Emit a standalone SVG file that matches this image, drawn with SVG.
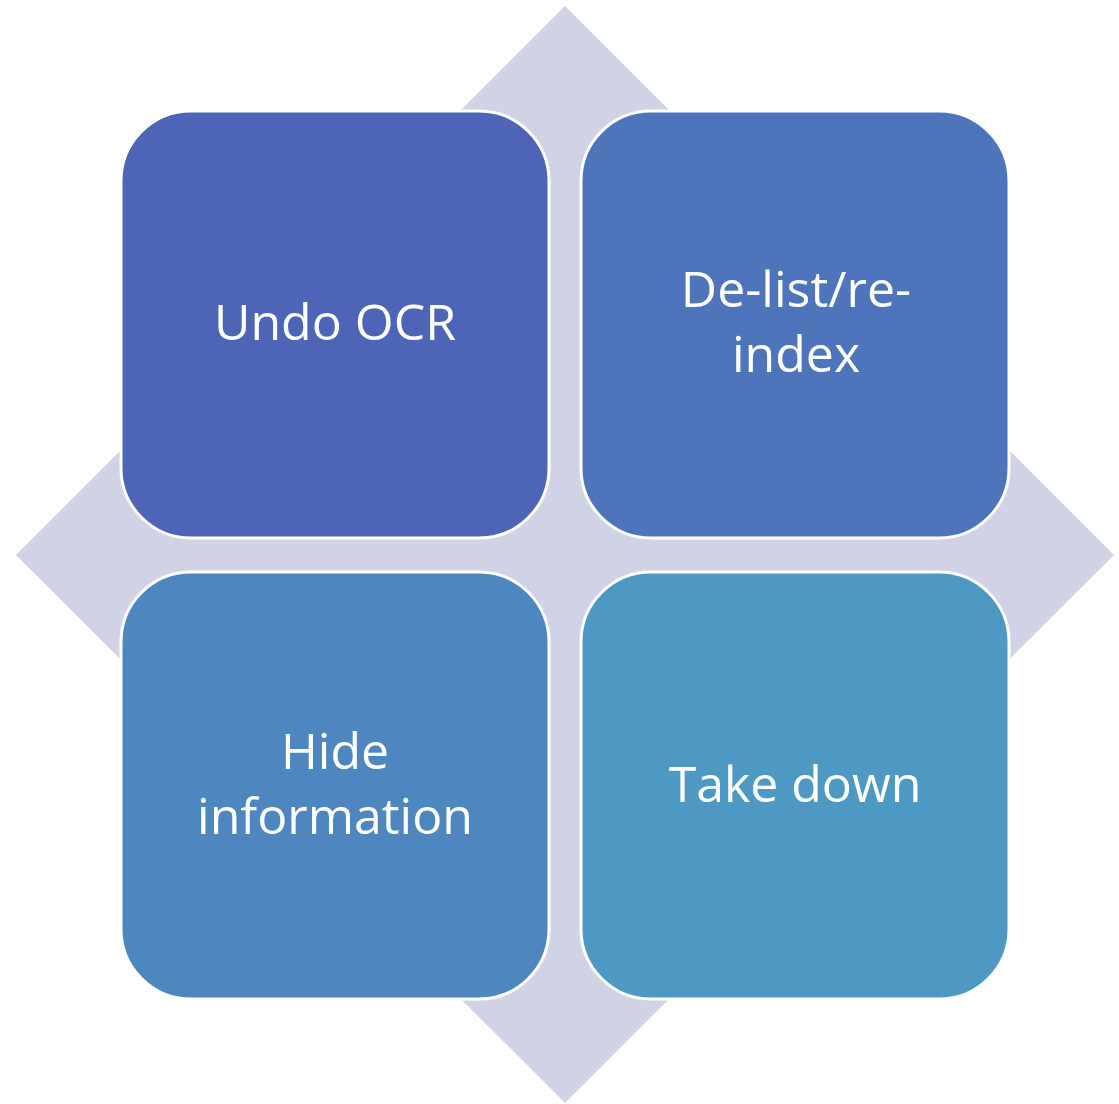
<svg xmlns="http://www.w3.org/2000/svg" width="1119" height="1104" viewBox="0 0 1119 1104">
<style>
.box{stroke:#FFFFFF;stroke-width:3}
.lbl{font-family:"Open Sans","Liberation Sans",sans-serif;font-size:50px;fill:#FFFFFF;text-anchor:middle}
</style>
<rect width="1119" height="1104" fill="#FFFFFF"/>
<g id="diamond"><polygon points="565,6 1114,555 565,1103 16,555" fill="#D0D3E6"/></g>
<g id="connectors"></g>
<g id="node-undo-ocr">
<rect class="box" x="121" y="111" width="428" height="427" rx="70" fill="#4E64B7"/>
<text class="lbl" x="335" y="340">Undo OCR</text>
</g>
<g id="node-delist">
<rect class="box" x="581" y="111" width="428" height="427" rx="70" fill="#4E75BC"/>
<text class="lbl" x="796" y="307">De-list/re-</text>
<text class="lbl" x="796" y="372">index</text>
</g>
<g id="node-hide">
<rect class="box" x="121" y="572" width="428" height="427" rx="70" fill="#4E87C0"/>
<text class="lbl" x="335" y="769">Hide</text>
<text class="lbl" x="335" y="834">information</text>
</g>
<g id="node-takedown">
<rect class="box" x="581" y="572" width="428" height="427" rx="70" fill="#4E99C3"/>
<text class="lbl" x="795" y="802">Take down</text>
</g>
</svg>
